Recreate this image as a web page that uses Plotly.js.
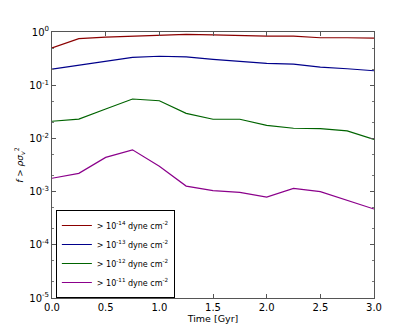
<!DOCTYPE html>
<html>
<head>
<meta charset="utf-8">
<script src="https://cdn.plot.ly/plotly-3.0.1.min.js"></script>
<style>
  body { margin: 0; background: #fff; }
  #plot { width: 415px; height: 332px; }
</style>
</head>
<body>
<div id="plot"></div>
<script>
// time in Gyr, fraction of gas above each pressure threshold
var time = [0, 0.25, 0.5, 0.75, 1.0, 1.25, 1.5, 1.75, 2.0, 2.25, 2.5, 2.75, 3.0];

var f_14 = [0.50, 0.75, 0.80, 0.84, 0.88, 0.90, 0.88, 0.85, 0.84, 0.84, 0.78, 0.78, 0.77];
var f_13 = [0.200, 0.236, 0.280, 0.334, 0.350, 0.340, 0.306, 0.285, 0.257, 0.250, 0.218, 0.204, 0.187];
var f_12 = [0.021, 0.023, 0.0357, 0.055, 0.051, 0.0296, 0.0229, 0.0229, 0.0176, 0.0155, 0.0153, 0.0138, 0.0096];
var f_11 = [0.00178, 0.0022, 0.0044, 0.0061, 0.0030, 0.00127, 0.00104, 0.00097, 0.00079, 0.00115, 0.0010, 0.00068, 0.00047];

var labels = [
  "&gt; 10<sup>-14</sup> dyne cm<sup>-2</sup>",
  "&gt; 10<sup>-13</sup> dyne cm<sup>-2</sup>",
  "&gt; 10<sup>-12</sup> dyne cm<sup>-2</sup>",
  "&gt; 10<sup>-11</sup> dyne cm<sup>-2</sup>"
];
var colors = ["#8b0000", "#00008b", "#006400", "#8b008b"];

var x_ticks = [0, 0.5, 1.0, 1.5, 2.0, 2.5, 3.0];
var x_ticktext = ["0.0", "0.5", "1.0", "1.5", "2.0", "2.5", "3.0"];
var y_ticks = [1e-5, 1e-4, 1e-3, 1e-2, 1e-1, 1];
var y_ticktext = ["10<sup>-5</sup>", "10<sup>-4</sup>", "10<sup>-3</sup>",
                  "10<sup>-2</sup>", "10<sup>-1</sup>", "10<sup>0</sup>"];

var series = [f_14, f_13, f_12, f_11];
var data = [];
for (var i = 0; i < series.length; i++) {
  data.push({
    x: time,
    y: series[i],
    mode: "lines",
    name: labels[i],
    line: { color: colors[i], width: 1.2 },
  });
}

var layout = {
  width: 415,
  height: 332,
  margin: { l: 52, r: 41, t: 32, b: 34 },
  paper_bgcolor: "#fff",
  plot_bgcolor: "#fff",
  font: { family: "DejaVu Sans", size: 10, color: "#000" },
  showlegend: true,
  legend: {
    x: 0.012, y: 0.0, xanchor: "left", yanchor: "bottom",
    bordercolor: "#000", borderwidth: 1, bgcolor: "#fff",
    font: { family: "DejaVu Sans", size: 8 },
    itemwidth: 30,
    tracegroupgap: 0,
  },
  xaxis: {
    range: [0, 3],
    tickvals: x_ticks,
    ticktext: x_ticktext,
    ticks: "inside", ticklen: 4, tickcolor: "#555",
    showline: true, linecolor: "#555", linewidth: 1, mirror: "ticks",
    showgrid: false, zeroline: false,
    title: { text: "Time [Gyr]", font: { family: "DejaVu Sans", size: 9.5 }, standoff: 2 },
  },
  yaxis: {
    type: "log",
    range: [-5, 0],
    tickvals: y_ticks,
    ticktext: y_ticktext,
    ticks: "inside", ticklen: 4, tickcolor: "#555",
    showline: true, linecolor: "#555", linewidth: 1, mirror: "ticks",
    showgrid: false, zeroline: false,
    minor: { ticks: "inside", ticklen: 2, tickcolor: "#777", showgrid: false },
    title: { text: "<i>f</i> &gt; <i>ρσ</i><sub><i>v</i></sub><sup>2</sup>",
             font: { family: "DejaVu Sans", size: 9 }, standoff: 4 },
  },
};

Plotly.newPlot("plot", data, layout, { displayModeBar: false, staticPlot: true });
</script>
</body>
</html>
